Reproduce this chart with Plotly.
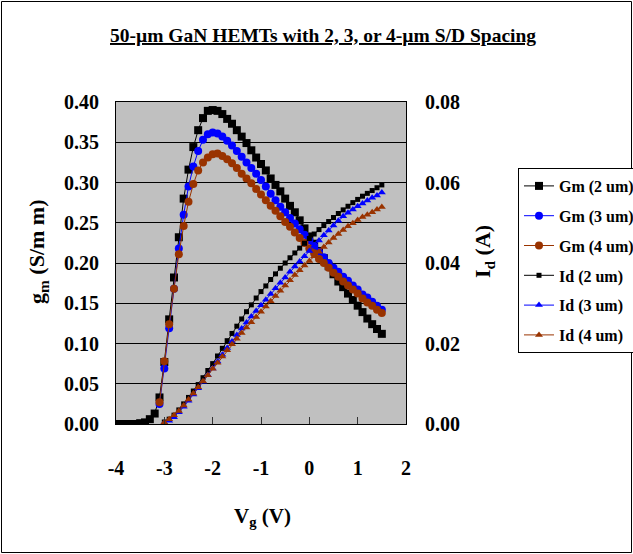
import plotly.graph_objects as go

# ---------------- data ----------------
vg_gm2 = [-4.0, -3.9, -3.8, -3.7, -3.6, -3.5, -3.4, -3.3, -3.2, -3.1,
          -3.0, -2.9, -2.8, -2.7, -2.6, -2.5, -2.4, -2.3, -2.2, -2.1,
          -2.0, -1.9, -1.8, -1.7, -1.6, -1.5, -1.4, -1.3, -1.2, -1.1,
          -1.0, -0.9, -0.8, -0.7, -0.6, -0.5, -0.4, -0.3, -0.2, -0.1,
          0.0, 0.1, 0.2, 0.3, 0.4, 0.5, 0.6, 0.7, 0.8, 0.9,
          1.0, 1.1, 1.2, 1.3, 1.4, 1.5]
gm_2um = [0.000, 0.000, 0.000, 0.000, 0.000, 0.001, 0.002, 0.006, 0.013, 0.033,
          0.077, 0.130, 0.182, 0.232, 0.280, 0.316, 0.344, 0.365, 0.380, 0.389,
          0.390, 0.389, 0.385, 0.379, 0.373, 0.365, 0.357, 0.349, 0.340, 0.331,
          0.323, 0.315, 0.305, 0.297, 0.289, 0.280, 0.271, 0.263, 0.253, 0.243,
          0.233, 0.224, 0.215, 0.206, 0.196, 0.186, 0.177, 0.170, 0.162, 0.154,
          0.147, 0.139, 0.131, 0.124, 0.118, 0.112]

vg_gm34 = [-3.1,
           -3.0, -2.9, -2.8, -2.7, -2.6, -2.5, -2.4, -2.3, -2.2, -2.1,
           -2.0, -1.9, -1.8, -1.7, -1.6, -1.5, -1.4, -1.3, -1.2, -1.1,
           -1.0, -0.9, -0.8, -0.7, -0.6, -0.5, -0.4, -0.3, -0.2, -0.1,
           0.0, 0.1, 0.2, 0.3, 0.4, 0.5, 0.6, 0.7, 0.8, 0.9,
           1.0, 1.1, 1.2, 1.3, 1.4, 1.5]
gm_3um = [0.025,
          0.069, 0.119, 0.168, 0.218, 0.260, 0.295, 0.320, 0.339, 0.353, 0.360,
          0.362, 0.361, 0.357, 0.352, 0.346, 0.339, 0.332, 0.325, 0.318, 0.311,
          0.303, 0.295, 0.286, 0.278, 0.270, 0.263, 0.256, 0.249, 0.242, 0.235,
          0.228, 0.221, 0.214, 0.207, 0.200, 0.194, 0.189, 0.183, 0.178, 0.172,
          0.167, 0.161, 0.157, 0.152, 0.147, 0.142]
gm_4um = [0.027,
          0.078, 0.124, 0.168, 0.211, 0.246, 0.276, 0.298, 0.315, 0.325, 0.331,
          0.335, 0.336, 0.333, 0.329, 0.324, 0.318, 0.311, 0.305, 0.299, 0.292,
          0.285, 0.278, 0.271, 0.265, 0.258, 0.251, 0.245, 0.238, 0.231, 0.225,
          0.218, 0.212, 0.205, 0.200, 0.194, 0.188, 0.183, 0.177, 0.172, 0.167,
          0.162, 0.156, 0.151, 0.147, 0.142, 0.138]

vg_id = [-3.0, -2.9, -2.8, -2.7, -2.6, -2.5, -2.4, -2.3, -2.2, -2.1,
         -2.0, -1.9, -1.8, -1.7, -1.6, -1.5, -1.4, -1.3, -1.2, -1.1,
         -1.0, -0.9, -0.8, -0.7, -0.6, -0.5, -0.4, -0.3, -0.2, -0.1,
         0.0, 0.1, 0.2, 0.3, 0.4, 0.5, 0.6, 0.7, 0.8, 0.9,
         1.0, 1.1, 1.2, 1.3, 1.4, 1.5]
id_2um = [0.0005, 0.0012, 0.0022, 0.0035, 0.0050, 0.0066, 0.0082, 0.0098, 0.0115, 0.0133,
          0.0150, 0.0169, 0.0188, 0.0207, 0.0225, 0.0243, 0.0261, 0.0279, 0.0296, 0.0313,
          0.0329, 0.0343, 0.0359, 0.0373, 0.0387, 0.0400, 0.0413, 0.0425, 0.0437, 0.0449,
          0.0461, 0.0472, 0.0483, 0.0493, 0.0503, 0.0513, 0.0523, 0.0532, 0.0541, 0.0550,
          0.0558, 0.0566, 0.0573, 0.0580, 0.0587, 0.0594]
id_3um = [0.0003, 0.0008, 0.0017, 0.0029, 0.0043, 0.0058, 0.0073, 0.0089, 0.0105, 0.0122,
          0.0138, 0.0155, 0.0172, 0.0189, 0.0205, 0.0221, 0.0237, 0.0252, 0.0267, 0.0281,
          0.0295, 0.0309, 0.0323, 0.0337, 0.0351, 0.0364, 0.0378, 0.0391, 0.0404, 0.0417,
          0.0430, 0.0443, 0.0456, 0.0469, 0.0481, 0.0493, 0.0505, 0.0516, 0.0525, 0.0533,
          0.0541, 0.0548, 0.0555, 0.0562, 0.0568, 0.0575]
id_4um = [0.0004, 0.0012, 0.0022, 0.0032, 0.0046, 0.0061, 0.0076, 0.0091, 0.0106, 0.0121,
          0.0137, 0.0152, 0.0168, 0.0183, 0.0198, 0.0212, 0.0226, 0.0240, 0.0253, 0.0266,
          0.0279, 0.0292, 0.0305, 0.0318, 0.0331, 0.0344, 0.0357, 0.0370, 0.0382, 0.0394,
          0.0405, 0.0417, 0.0428, 0.0440, 0.0451, 0.0462, 0.0472, 0.0482, 0.0491, 0.0499,
          0.0507, 0.0514, 0.0520, 0.0526, 0.0533, 0.0539]

x_tickvals = [-4, -3, -2, -1, 0, 1, 2]
x_ticktext = ["-4", "-3", "-2", "-1", "0", "1", "2"]

# ---------------- styling ----------------
W, H = 633, 554
L, R, T, B = 116, 406, 102, 424          # plot area in pixels
PW, PH = R - L, B - T

def px(x):
    return (x - L) / PW

def py(y):
    return (B - y) / PH

FONT = "Liberation Serif, Times New Roman, serif"
BLACK = "#000000"
BLUE = "#0000FF"
BROWN = "#993300"

fig = go.Figure()

series = [
    ("Gm (2 um)", vg_gm2, gm_2um, "y", BLACK, "square", 8),
    ("Gm (3 um)", vg_gm34, gm_3um, "y", BLUE, "circle", 8),
    ("Gm (4 um)", vg_gm34, gm_4um, "y", BROWN, "circle", 8),
    ("Id (2 um)", vg_id, id_2um, "y2", BLACK, "square", 5),
    ("Id (3 um)", vg_id, id_3um, "y2", BLUE, "triangle-up", 7),
    ("Id (4 um)", vg_id, id_4um, "y2", BROWN, "triangle-up", 7),
]
for name, xs, ys, ax, col, sym, sz in series:
    fig.add_trace(go.Scatter(
        x=xs, y=ys, name=name, yaxis=ax, mode="lines+markers",
        line=dict(color=col, width=1),
        marker=dict(color=col, symbol=sym, size=sz, line=dict(width=0)),
        legendgroup=name,
    ))

axis_font = dict(family=FONT, size=20, color=BLACK, weight="bold")

fig.update_layout(
    width=W, height=H,
    margin=dict(l=L, r=W - R, t=T, b=H - B, pad=0, autoexpand=False),
    paper_bgcolor="white",
    plot_bgcolor="#C0C0C0",
    font=dict(family=FONT, color=BLACK),
    showlegend=True,
    legend=dict(
        x=px(518), y=py(168), xanchor="left", yanchor="top",
        bgcolor="white", bordercolor=BLACK, borderwidth=1,
        font=dict(family=FONT, size=16, color=BLACK, weight="bold"),
        tracegroupgap=6, itemwidth=30,
    ),
    xaxis=dict(
        range=[-4, 2], tickvals=x_tickvals, ticktext=x_ticktext,
        ticks="inside", ticklen=7, tickcolor="#333333", tickwidth=1,
        showgrid=False, zeroline=False,
        showline=True, linecolor=BLACK, linewidth=1, mirror=True,
        tickfont=axis_font, ticklabelstandoff=26,
    ),
    yaxis=dict(
        range=[0, 0.4], dtick=0.05, tickformat=".2f",
        showgrid=True, gridcolor=BLACK, gridwidth=1, zeroline=False,
        showline=True, linecolor=BLACK, linewidth=1, mirror=True,
        ticks="", tickfont=axis_font, ticklabelstandoff=12,
    ),
    yaxis2=dict(
        range=[0, 0.08], dtick=0.02, tickformat=".2f",
        overlaying="y", side="right", showgrid=False, zeroline=False,
        showline=True, linecolor=BLACK, linewidth=1,
        ticks="", tickfont=axis_font, ticklabelstandoff=14,
    ),
)

# titles as annotations
fig.add_annotation(
    text="<u>50-µm GaN HEMTs with 2, 3, or 4-µm S/D Spacing</u>",
    xref="paper", yref="paper", x=px(323), y=py(36),
    showarrow=False, font=dict(family=FONT, size=19.5, color=BLACK, weight="bold"),
    xanchor="center", yanchor="middle",
)
fig.add_annotation(
    text="V<sub>g</sub> (V)",
    xref="paper", yref="paper", x=px(262), y=py(517),
    showarrow=False, font=dict(family=FONT, size=21, color=BLACK, weight="bold"),
    xanchor="center", yanchor="middle",
)
fig.add_annotation(
    text="g<sub>m</sub> (S/m m)",
    xref="paper", yref="paper", x=px(38), y=py(252), textangle=-90,
    showarrow=False, font=dict(family=FONT, size=22, color=BLACK, weight="bold"),
    xanchor="center", yanchor="middle",
)
fig.add_annotation(
    text="I<sub>d</sub> (A)",
    xref="paper", yref="paper", x=px(484), y=py(252), textangle=-90,
    showarrow=False, font=dict(family=FONT, size=22, color=BLACK, weight="bold"),
    xanchor="center", yanchor="middle",
)

# outer chart frame
fig.add_shape(
    type="rect", xref="paper", yref="paper",
    x0=px(1.5), x1=px(631.5), y0=py(552.5), y1=py(1.5),
    line=dict(color=BLACK, width=1), fillcolor="rgba(0,0,0,0)", layer="below",
)

fig.write_html(
    "out.html",
    config={"displayModeBar": False},
    post_script="document.body.style.margin='0px';document.body.style.overflow='hidden';",
)
